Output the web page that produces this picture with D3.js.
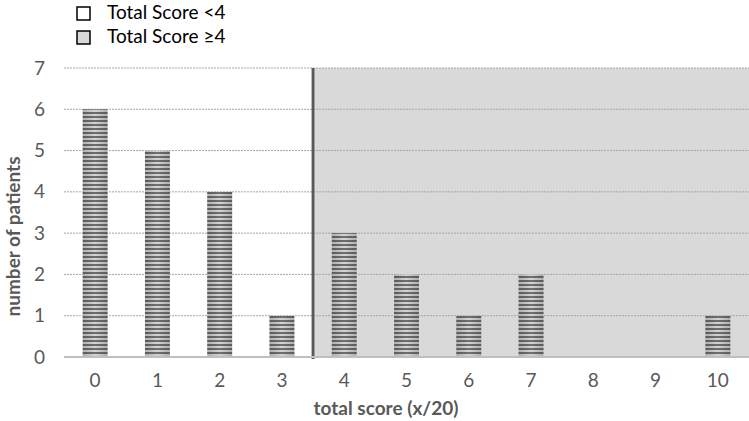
<!DOCTYPE html>
<html><head><meta charset="utf-8">
<script src="https://cdn.jsdelivr.net/npm/d3@7"></script>
<style>body{margin:0;background:#fff}svg{display:block;font-family:Lato,"Open Sans",sans-serif}</style>
</head><body><svg id="c" width="749" height="421"></svg>
<script>
const categories = ["0","1","2","3","4","5","6","7","8","9","10"];
const patients = [6,5,4,1,3,2,1,2,0,0,1];
const yTicks = [0,1,2,3,4,5,6,7];
const threshold = 4;
const legendLabels = ["Total Score <4","Total Score \u22654"];

const svg = d3.select("#c");
const m = {l:64, r:0, t:68, b:64};
const W = 749, H = 421;
const x = d3.scaleBand().domain(categories).range([m.l, W-m.r]).paddingInner(0.6).paddingOuter(0.3);
const y = d3.scaleLinear().domain([0,7]).range([H-m.b, m.t]);

const defs = svg.append("defs");
const pat = defs.append("pattern").attr("id","stripes").attr("patternUnits","userSpaceOnUse")
  .attr("width",4).attr("height",4);
pat.append("rect").attr("width",4).attr("height",4).attr("fill","#d4d4d4");
pat.append("rect").attr("width",4).attr("height",2).attr("fill","#6f6f6f");
const grad = defs.append("linearGradient").attr("id","shade").attr("x1","0").attr("x2","1");
grad.append("stop").attr("offset","0").attr("stop-color","#000").attr("stop-opacity",0.18);
grad.append("stop").attr("offset","0.5").attr("stop-color","#000").attr("stop-opacity",0);
grad.append("stop").attr("offset","1").attr("stop-color","#000").attr("stop-opacity",0.18);

// shaded region
const step = x.step();
const splitX = x(String(threshold)) - (step - x.bandwidth())/2;
svg.append("rect").attr("x", splitX+2).attr("y", y(7)).attr("width", W-m.r-splitX-2).attr("height", y(0)-y(7)).attr("fill","#d9d9d9");

// gridlines
svg.append("g").selectAll("line").data(yTicks.filter(d=>d>0)).join("line")
  .attr("x1", m.l).attr("x2", W-m.r).attr("y1", d=>y(d)).attr("y2", d=>y(d))
  .attr("stroke","#a6a6a6").attr("stroke-width",1).attr("stroke-dasharray","2,1");

// divider line
svg.append("line").attr("x1", splitX).attr("x2", splitX).attr("y1", y(7)).attr("y2", y(0)+2)
  .attr("stroke","#595959").attr("stroke-width",3);

// bars
const bars = svg.append("g").selectAll("g").data(patients.map((v,i)=>({c:categories[i],v}))).join("g");
bars.append("rect").attr("x", d=>x(d.c)).attr("y", d=>y(d.v)).attr("width", x.bandwidth()).attr("height", d=>y(0)-y(d.v)).attr("fill","url(#stripes)");
bars.append("rect").attr("x", d=>x(d.c)).attr("y", d=>y(d.v)).attr("width", x.bandwidth()).attr("height", d=>y(0)-y(d.v)).attr("fill","url(#shade)");

// baseline
svg.append("line").attr("x1", m.l).attr("x2", W-m.r).attr("y1", y(0)).attr("y2", y(0)).attr("stroke","#bfbfbf").attr("stroke-width",2);

const fs = "19px";
// y axis
const ya = svg.append("g").attr("transform",`translate(${m.l},0)`)
  .call(d3.axisLeft(y).tickValues(yTicks).tickSize(0).tickPadding(19).tickFormat(d3.format("d")));
ya.select(".domain").remove();
ya.selectAll("text").attr("fill","#595959").style("font-size",fs).style("font-family","Lato,'Open Sans',sans-serif");

// x axis
const xa = svg.append("g").attr("transform",`translate(0,${y(0)})`)
  .call(d3.axisBottom(x).tickSize(0).tickPadding(17));
xa.select(".domain").remove();
xa.selectAll("text").attr("fill","#595959").style("font-size",fs).style("font-family","Lato,'Open Sans',sans-serif");

// axis titles
svg.append("text").attr("x", 386).attr("y", 415).attr("text-anchor","middle")
  .attr("fill","#595959").style("font-size",fs).style("font-weight","bold").text("total score (x/20)");
svg.append("text").attr("transform",`translate(20,${(y(0)+y(7))/2+24}) rotate(-90)`).attr("text-anchor","middle")
  .attr("fill","#595959").style("font-size",fs).style("font-weight","bold").text("number of patients");

// legend
const lg = svg.append("g").selectAll("g").data(legendLabels).join("g")
  .attr("transform",(d,i)=>`translate(77,${7+i*24})`);
lg.append("rect").attr("width",13).attr("height",13).attr("fill",(d,i)=>i?"#d9d9d9":"#fff").attr("stroke","#000").attr("stroke-width",1.5);
lg.append("text").attr("x",30).attr("y",12).attr("fill","#000").style("font-size",fs).text(d=>d);
</script></body></html>
